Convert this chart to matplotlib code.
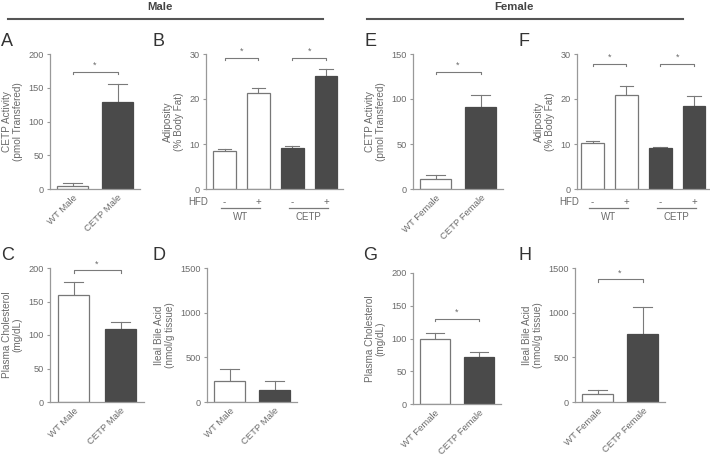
import matplotlib
matplotlib.use("Agg")
import matplotlib.pyplot as plt
import matplotlib.transforms as mtransforms

plt.rcParams['font.family'] = ['Liberation Sans', 'DejaVu Sans']

# ---------------- data ----------------
male_groups = ["WT Male", "CETP Male"]
female_groups = ["WT Female", "CETP Female"]

A_vals = [5, 129];   A_err = [4.4, 26.5]
C_vals = [159, 109]; C_err = [20, 11]
D_vals = [234, 137]; D_err = [134, 101]
E_vals = [11, 91];   E_err = [4.6, 13]
G_vals = [100, 71];  G_err = [9, 8]
H_vals = [89, 757];  H_err = [45, 301]

hfd_signs = ["-", "+", "-", "+"]
geno_labels = ["WT", "CETP"]
B_vals = [8.5, 21.3, 9.2, 25.2]; B_err = [0.3, 1.1, 0.3, 1.5]
F_vals = [10.2, 20.8, 9.1, 18.5]; F_err = [0.4, 2.1, 0.3, 2.1]

W_, H_ = 710, 455
fig = plt.figure(figsize=(W_/100, H_/100), dpi=100)

GRAY = "#7a7a7a"
TXT = "#6a6a6a"
DARK = "#4a4a4a"


def make_ax(x0, x1, ytop, ybot):
    return fig.add_axes([x0/W_, 1-ybot/H_, (x1-x0)/W_, (ybot-ytop)/H_])


def style(ax, ymax, step, ylabel):
    for s in ["top", "right"]:
        ax.spines[s].set_visible(False)
    for s in ["left", "bottom"]:
        ax.spines[s].set_color("#999999")
        ax.spines[s].set_linewidth(0.9)
    ax.set_ylim(0, ymax)
    ax.set_yticks(list(range(0, ymax + 1, step)))
    ax.tick_params(axis="y", length=2.5, width=0.8, color="#999999",
                   labelsize=6.6, labelcolor=TXT, pad=2)
    ax.tick_params(axis="x", length=0, labelsize=6.8, labelcolor=TXT, pad=3)
    ax.set_ylabel(ylabel, fontsize=7.2, color=TXT, labelpad=4, linespacing=1.1)


def bars(ax, xs, vals, errs, colors, width):
    for x, v, e, c in zip(xs, vals, errs, colors):
        ax.bar(x, v, width=width, color=c, edgecolor=("#777777" if c == "white" else DARK),
               linewidth=0.9, zorder=2)
        ax.plot([x, x], [v, v + e], color=GRAY, lw=0.8, zorder=1)
        ax.plot([x - width*0.3, x + width*0.3], [v + e, v + e], color=GRAY, lw=0.8, zorder=1)


def bracket(ax, x0, x1, y, ymax):
    d = ymax * 0.018
    ax.plot([x0, x0, x1, x1], [y - d, y, y, y - d], color=GRAY, lw=0.8, clip_on=False)
    ax.text((x0 + x1)/2, y + ymax*0.015, "*", ha="center", va="bottom",
            fontsize=6.5, color=TXT, clip_on=False)


def two_bar(ax, groups, vals, errs, ymax, step, ylabel, sig_y):
    xs = [0, 1]
    bars(ax, xs, vals, errs, ["white", DARK], 0.68)
    ax.set_xlim(-0.5, 1.5)
    style(ax, ymax, step, ylabel)
    ax.set_xticks(xs)
    ax.set_xticklabels(groups, rotation=45, ha="right", rotation_mode="anchor")
    if sig_y is not None:
        bracket(ax, 0, 1, sig_y, ymax)


def four_bar(ax, vals, errs, ymax, step, ylabel, sig_y, xlim):
    xs = [0, 1, 2, 3]
    bars(ax, xs, vals, errs, ["white", "white", DARK, DARK], 0.67)
    ax.set_xlim(*xlim)
    style(ax, ymax, step, ylabel)
    ax.set_xticks([])
    bracket(ax, 0, 1, sig_y, ymax)
    bracket(ax, 2, 3, sig_y, ymax)
    tr = mtransforms.blended_transform_factory(ax.transData, ax.transAxes)
    ax.text(xlim[0] + 0.05, -0.095, "HFD", transform=tr, ha="right", va="center",
            fontsize=7, color=TXT)
    for x, s in zip(xs, hfd_signs):
        ax.text(x, -0.095, s, transform=tr, ha="center", va="center",
                fontsize=7, color=TXT)
    for i, g in enumerate(geno_labels):
        a, b = 2*i - 0.1, 2*i + 1.05
        ax.plot([a, b], [-0.14, -0.14], transform=tr, color=GRAY, lw=0.9, clip_on=False)
        ax.text((a + b)/2, -0.21, g, transform=tr, ha="center", va="center",
                fontsize=7, color=TXT)


# Panel A
axA = make_ax(50, 140, 54, 189)
two_bar(axA, male_groups, A_vals, A_err, 200, 50,
        "CETP Activity\n(pmol Transfered)", 174)
# Panel B
axB = make_ax(206, 343, 54, 189)
four_bar(axB, B_vals, B_err, 30, 10, "Adiposity\n(% Body Fat)", 29.1, (-0.55, 3.5))
# Panel C
axC = make_ax(50, 144, 268, 402)
two_bar(axC, male_groups, C_vals, C_err, 200, 50,
        "Plasma Cholesterol\n(mg/dL)", 196.5)
# Panel D
axD = make_ax(207, 297, 268, 402)
two_bar(axD, male_groups, D_vals, D_err, 1500, 500,
        "Ileal Bile Acid\n(nmol/g tissue)", None)
# Panel E
axE = make_ax(413, 503, 54, 189)
two_bar(axE, female_groups, E_vals, E_err, 150, 50,
        "CETP Activity\n(pmol Transfered)", 130)
# Panel F
axF = make_ax(577, 711, 54, 189)
four_bar(axF, F_vals, F_err, 30, 10, "Adiposity\n(% Body Fat)", 27.8, (-0.46, 3.5))
# Panel G
axG = make_ax(413, 501, 273, 404)
two_bar(axG, female_groups, G_vals, G_err, 200, 50,
        "Plasma Cholesterol\n(mg/dL)", 130)
# Panel H
axH = make_ax(575, 665, 268, 402)
two_bar(axH, female_groups, H_vals, H_err, 1500, 500,
        "Ileal Bile Acid\n(nmol/g tissue)", 1374)

# panel letters
letters = [("A", 1, 42), ("B", 153, 42), ("C", 1, 255), ("D", 153, 255),
           ("E", 364, 42), ("F", 518, 42), ("G", 363, 255), ("H", 518, 255)]
for t, x, y in letters:
    fig.text(x/W_, 1 - y/H_, t, fontsize=13, color="#333333", ha="left", va="center")

# headers
fig.text(160/W_, 1 - 7/H_, "Male", fontsize=8.2, fontweight="bold", color="#444444",
         ha="center", va="center")
fig.text(514/W_, 1 - 7/H_, "Female", fontsize=8.2, fontweight="bold", color="#444444",
         ha="center", va="center")
fig.add_artist(plt.Line2D([8/W_, 323/W_], [1 - 19/H_, 1 - 19/H_], color="#555555", lw=1.5))
fig.add_artist(plt.Line2D([367/W_, 683/W_], [1 - 19/H_, 1 - 19/H_], color="#555555", lw=1.5))

fig.savefig("out.png", dpi=100)
